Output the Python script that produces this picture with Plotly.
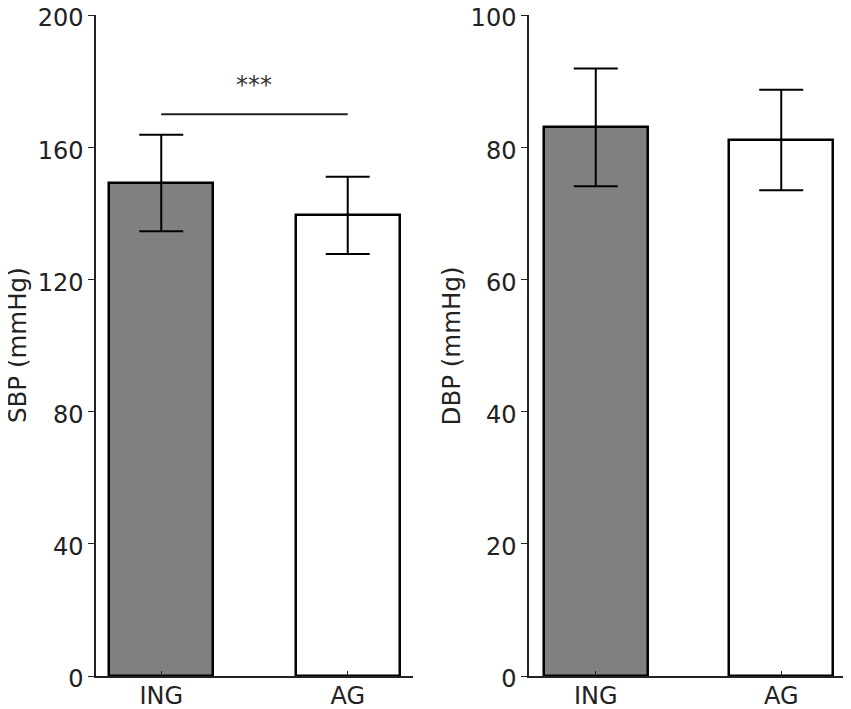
import plotly.graph_objects as go

groups = ['ING', 'AG']
sbp_mean = [149.2, 139.4]
sbp_sd = [14.6, 11.7]
dbp_mean = [83.0, 81.1]
dbp_sd = [8.9, 7.6]
bar_colors = ['#808080', '#ffffff']
sig_level = 170
sig_label = '***'

fig = go.Figure()

fig.add_trace(go.Bar(
    x=groups, y=sbp_mean, width=0.56,
    marker=dict(color=bar_colors, line=dict(color='black', width=2.5)),
    error_y=dict(type='data', array=sbp_sd, color='black', thickness=2, width=22),
    xaxis='x', yaxis='y', showlegend=False,
))
fig.add_trace(go.Bar(
    x=groups, y=dbp_mean, width=0.56,
    marker=dict(color=bar_colors, line=dict(color='black', width=2.5)),
    error_y=dict(type='data', array=dbp_sd, color='black', thickness=2, width=22),
    xaxis='x2', yaxis='y2', showlegend=False,
))

# significance bracket between the two SBP bars
fig.add_trace(go.Scatter(
    x=groups, y=[sig_level, sig_level], mode='lines',
    line=dict(color='#222', width=2),
    xaxis='x', yaxis='y', showlegend=False, hoverinfo='skip',
))
fig.add_annotation(x=0.5, y=sig_level + 4, xref='x', yref='y', text=sig_label,
                   showarrow=False, font=dict(family='DejaVu Sans', size=24, color='#333'),
                   yanchor='bottom')

font = dict(family='DejaVu Sans', size=24, color='#222')
title_font = dict(family='DejaVu Sans', size=24.5, color='#222')

# axis titles as rotated annotations (exact placement)
fig.add_annotation(text='SBP (mmHg)', xref='paper', yref='paper', x=0.0112, y=0.524,
                   textangle=-90, showarrow=False, font=title_font,
                   xanchor='center', yanchor='middle')
fig.add_annotation(text='DBP (mmHg)', xref='paper', yref='paper', x=0.5217, y=0.524,
                   textangle=-90, showarrow=False, font=title_font,
                   xanchor='center', yanchor='middle')

xcommon = dict(type='category', showline=True, linecolor='#222', linewidth=1.5,
               ticks='inside', ticklen=5, tickcolor='#222', tickfont=font,
               showgrid=False, zeroline=False, automargin=False,
               ticklabeloverflow='allow', ticklabelstandoff=-3)
ycommon = dict(showline=True, linecolor='#222', linewidth=1.5, ticks='outside',
               ticklen=6, tickcolor='#222', tickfont=font, showgrid=False,
               zeroline=False, automargin=False, ticklabeloverflow='allow',
               ticklabelshift=3)

fig.update_layout(
    width=851, height=709,
    margin=dict(l=0, r=0, t=0, b=0),
    plot_bgcolor='white', paper_bgcolor='white',
    bargap=0,
    xaxis=dict(xcommon, domain=[0.1034, 0.4759], range=[-0.35, 1.35], anchor='y'),
    yaxis=dict(ycommon, domain=[0.0578, 0.9901], range=[0, 200], tickvals=[0, 40, 80, 120, 160, 200],
               anchor='x'),
    xaxis2=dict(xcommon, domain=[0.6122, 0.9871], range=[-0.36, 1.36], anchor='y2'),
    yaxis2=dict(ycommon, domain=[0.0578, 0.9901], range=[0, 100], tickvals=[0, 20, 40, 60, 80, 100],
                anchor='x2'),
)

fig.write_html('out.html')
